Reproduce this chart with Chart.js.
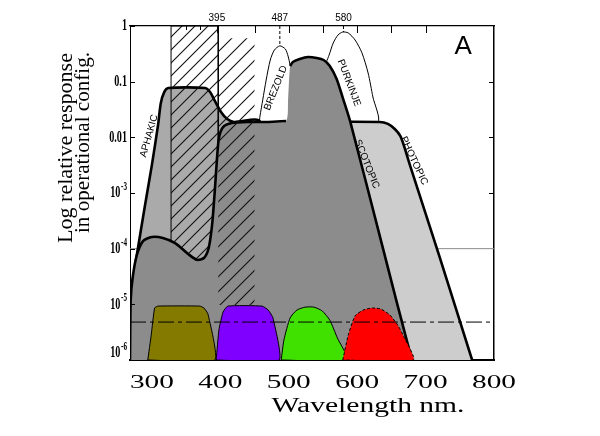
<!DOCTYPE html>
<html>
<head>
<meta charset="utf-8">
<script src="https://cdn.jsdelivr.net/npm/chart.js@4.4.1/dist/chart.umd.min.js"></script>
<style>
  html, body { margin: 0; padding: 0; background: #fff; }
</style>
</head>
<body>
<canvas id="fig" width="600" height="436"></canvas>
<script>
// --- curves: wavelength (nm) and relative response ---
// (sloping edges run on well below 1e-6 so their corners fall outside the frame)
const darkNm   = [268, 269, 272, 278, 287, 300, 316, 334, 353, 366, 376, 383, 388, 392, 395, 398, 404, 417, 443, 470, 496, 499, 502, 506, 516, 528, 541, 551, 560, 570, 579, 590, 635, 680, 706];
const darkResp = [1e-6, 1.2e-5, 3.1e-5, 7.7e-5, 1.37e-4, 1.62e-4, 1.56e-4, 1.26e-4, 8.0e-5, 6.3e-5, 6.8e-5, 1.03e-4, 2.7e-4, 1.13e-3, 3.9e-3, 9.7e-3, 0.0153, 0.0181, 0.0189, 0.0189, 0.0197, 0.047, 0.191, 0.226, 0.255, 0.277, 0.266, 0.245, 0.191, 0.112, 0.051, 0.0189, 1.37e-4, 1e-6, 8.4e-8];
const darkHiddenNm = 499; // part of the edge hidden behind the Brezold lobe

const aphakicNm   = [265, 268, 278, 290, 300, 309, 313, 318, 324, 378, 385, 392, 401, 410, 420, 458, 458];
const aphakicResp = [5.2e-6, 1.2e-5, 7.7e-5, 6.1e-4, 3.2e-3, 0.0167, 0.041, 0.065, 0.077, 0.077, 0.065, 0.045, 0.0285, 0.0213, 0.0189, 0.0189, 5.2e-6];

const photopicNm   = [516, 633, 645, 655, 663, 668, 677, 720, 768, 796, 516];
const photopicResp = [0.0189, 0.0189, 0.0174, 0.0141, 0.0106, 7.3e-3, 3.2e-3, 7.4e-5, 1e-6, 8.4e-8, 8.4e-8];

const brezoldNm   = [457, 458, 462, 467, 473, 479, 487, 495, 499, 502, 504, 504];
const brezoldResp = [0.0189, 0.0242, 0.047, 0.107, 0.245, 0.37, 0.44, 0.386, 0.289, 0.199, 0.15, 0.0189];

const purkinjeNm   = [555, 559, 565, 572, 579, 587, 597, 607, 616, 623, 630, 560];
const purkinjeResp = [0.226, 0.30, 0.495, 0.69, 0.78, 0.75, 0.56, 0.33, 0.143, 0.053, 0.0189, 0.0189];

const hatch1Nm   = [328, 397, 397, 328];
const hatch1Resp = [1, 1, 2.7e-5, 2.7e-5];
const hatch2Nm   = [397, 450, 450, 397];
const hatch2Resp = [0.6, 0.6, 9.7e-6, 9.7e-6];

const oliveNm    = [294, 299, 304, 309, 370, 376, 382, 392];
const oliveResp  = [1e-6, 2.8e-6, 8.6e-6, 9.3e-6, 9.3e-6, 8.6e-6, 6.7e-6, 1e-6];
const purpleNm   = [394, 398, 404, 411, 461, 470, 477, 486];
const purpleResp = [1e-6, 3.5e-6, 7.3e-6, 9.3e-6, 9.3e-6, 7.9e-6, 5.7e-6, 1e-6];
const greenNm    = [489, 493, 502, 512, 524, 537, 549, 560, 571, 585];
const greenResp  = [1e-6, 2.3e-6, 5.7e-6, 7.9e-6, 8.9e-6, 8.9e-6, 7.6e-6, 5.2e-6, 2.5e-6, 1e-6];
const redNm      = [579, 587, 597, 609, 622, 635, 648, 660, 669, 682];
const redResp    = [1e-6, 2.8e-6, 6.2e-6, 7.9e-6, 8.6e-6, 8.2e-6, 6.4e-6, 4.1e-6, 2.5e-6, 1e-6];

const thresholdNm = [268, 800];
const thresholdResp = [4.8e-6, 4.8e-6];
const gridNm = [268, 800];
const gridResp = [1e-4, 1e-4];
const peakMarkers = [[487, 0.44], [580, 0.78]];

// --- axes / tick labels ---
const xTicks = [300, 400, 500, 600, 700, 800];
const yTicks = [1, 0.1, 0.01, 1e-3, 1e-4, 1e-5, 1e-6];
const yTickLabels = ['1', '0.1', '0.01', ['10', '-3'], ['10', '-4'], ['10', '-5'], ['10', '-6']];
const rightTicks = [0.1, 0.01, 1e-3];
const topTicks = [350, 370, 395, 450, 500, 550, 600, 650, 700];
const topLabels = [395, 487, 580];
const curveLabels = [
  { text: 'APHAKIC',  nm: 296, r: 0.0106, angle: -74 },
  { text: 'BREZOLD',  nm: 481, r: 0.077,  angle: -68 },
  { text: 'PURKINJE', nm: 588, r: 0.095,  angle: 69 },
  { text: 'SCOTOPIC', nm: 614, r: 3.3e-3, angle: 68 },
  { text: 'PHOTOPIC', nm: 683, r: 3.8e-3, angle: 65 }
];

const pts = (nm, resp) => nm.map((x, i) => ({ x: x, y: resp[i] }));
const closed = (nm, resp) => { const p = pts(nm, resp); p.push(p[0]); return p; };

const canvas = document.getElementById('fig');
const ctx = canvas.getContext('2d');

function hatch(size) {
  const c = document.createElement('canvas');
  c.width = size; c.height = size;
  const g = c.getContext('2d');
  g.strokeStyle = '#111';
  g.lineWidth = 1.1;
  g.beginPath();
  g.moveTo(0, size); g.lineTo(size, 0);
  g.moveTo(-2, 2); g.lineTo(2, -2);
  g.moveTo(size - 2, size + 2); g.lineTo(size + 2, size - 2);
  g.stroke();
  return ctx.createPattern(c, 'repeat');
}

const base = { pointRadius: 0, xAxisID: 'x', yAxisID: 'y', tension: 0.25 };
function shape(nm, resp, opts) {
  return Object.assign({}, base, { data: closed(nm, resp), fill: 'shape' }, opts);
}
function line(data, opts) {
  return Object.assign({}, base, { data: data, fill: false, tension: 0 }, opts);
}

const darkEdge = pts(darkNm, darkResp).map(p => p.x === darkHiddenNm ? { x: p.x, y: null } : p);

const datasets = [
  line(pts(gridNm, gridResp), { borderColor: '#8a8a8a', borderWidth: 1, order: 15 }),
  shape(purkinjeNm, purkinjeResp, { backgroundColor: '#fff', borderColor: '#000', borderWidth: 1, order: 14 }),
  shape(photopicNm, photopicResp, { backgroundColor: '#cdcdcd', borderColor: '#000', borderWidth: 2.6, order: 13 }),
  shape(brezoldNm, brezoldResp, { backgroundColor: '#fff', borderColor: '#000', borderWidth: 1, order: 12 }),
  shape(aphakicNm, aphakicResp, { backgroundColor: '#aaaaaa', borderColor: '#000', borderWidth: 2.6, order: 11 }),
  shape(hatch1Nm, hatch1Resp, { backgroundColor: hatch(13), borderColor: '#000', borderWidth: 1, tension: 0, order: 10 }),
  shape(darkNm, darkResp, { backgroundColor: '#8c8c8c', borderWidth: 0, order: 9 }),
  line(darkEdge, { borderColor: '#000', borderWidth: 2.6, tension: 0.25, spanGaps: false, order: 8 }),
  shape(hatch2Nm, hatch2Resp, { backgroundColor: hatch(15), borderWidth: 0, tension: 0, order: 7 }),
  shape(oliveNm, oliveResp, { backgroundColor: '#847a00', borderColor: '#000', borderWidth: 1, tension: 0.15, order: 6 }),
  shape(purpleNm, purpleResp, { backgroundColor: '#8000ff', borderColor: '#000', borderWidth: 1, tension: 0.15, order: 5 }),
  shape(greenNm, greenResp, { backgroundColor: '#40e000', borderColor: '#000', borderWidth: 1, tension: 0.2, order: 4 }),
  shape(redNm, redResp, { backgroundColor: '#ff0000', borderColor: '#000', borderWidth: 1, borderDash: [3, 2], tension: 0.2, order: 3 }),
  line(pts(thresholdNm, thresholdResp), { borderColor: '#000', borderWidth: 1, borderDash: [16, 4, 4, 4], order: 2 })
];
peakMarkers.forEach(m => {
  datasets.push(line([{ x: m[0], y: 1 }, { x: m[0], y: m[1] }], { borderColor: '#000', borderWidth: 1, borderDash: [3, 2], order: 1 }));
});

function stretched(c, text, x, y, font, width) {
  c.save();
  c.font = font;
  const w = c.measureText(text).width;
  c.translate(x, y);
  c.scale(width / w, 1);
  c.textAlign = 'center';
  c.textBaseline = 'middle';
  c.fillText(text, 0, 0);
  c.restore();
}

const figureText = {
  id: 'figureText',
  afterDraw(chart) {
    const c = chart.ctx;
    const a = chart.chartArea;
    const X = chart.scales.x, Y = chart.scales.y;
    c.save();
    c.strokeStyle = '#000';
    c.fillStyle = '#000';
    c.lineWidth = 1;

    // inward tick marks
    c.beginPath();
    yTicks.forEach(v => {
      const py = Math.round(Y.getPixelForValue(v)) + 0.5;
      c.moveTo(a.left, py); c.lineTo(a.left + 5, py);
    });
    rightTicks.forEach(v => {
      const py = Math.round(Y.getPixelForValue(v)) + 0.5;
      c.moveTo(a.right, py); c.lineTo(a.right - 5, py);
    });
    topTicks.forEach(v => {
      const px = Math.round(X.getPixelForValue(v)) + 0.5;
      c.moveTo(px, a.top); c.lineTo(px, a.top + (v < 390 ? 4 : 7));
    });
    c.stroke();

    // y tick labels (condensed bold serif)
    yTicks.forEach((v, i) => {
      const lab = yTickLabels[i];
      const py = Math.min(Y.getPixelForValue(v), a.bottom - 7);
      c.save();
      c.translate(a.left - 3, py);
      c.scale(0.6, 1);
      c.textAlign = 'right';
      c.textBaseline = 'middle';
      if (typeof lab === 'string') {
        c.font = 'bold 17px "Liberation Serif"';
        c.fillText(lab, 0, 0);
      } else {
        c.font = 'bold 12px "Liberation Serif"';
        const we = c.measureText(lab[1]).width;
        c.fillText(lab[1], 0, -6);
        c.font = 'bold 17px "Liberation Serif"';
        c.fillText(lab[0], -we - 1, 0);
      }
      c.restore();
    });

    // x tick labels (wide serif)
    xTicks.forEach(v => {
      stretched(c, String(v), X.getPixelForValue(v), a.bottom + 23, '18px "Liberation Serif"', 44);
    });
    stretched(c, 'Wavelength nm.', 368, 407, '20px "Liberation Serif"', 193);

    // y axis title, two rotated lines
    [['Log relative response', 72, 53, 190], ['in operational config.', 89, 52, 181]].forEach(t => {
      c.save();
      c.translate(t[1], t[2]);
      c.rotate(-Math.PI / 2);
      c.font = '21px "Liberation Serif"';
      const w = c.measureText(t[0]).width;
      c.scale(t[3] / w, 1);
      c.textAlign = 'right';
      c.textBaseline = 'alphabetic';
      c.fillText(t[0], 0, 0);
      c.restore();
    });

    // wavelength marks above the frame
    c.font = '10px "Liberation Sans"';
    c.textAlign = 'center';
    c.textBaseline = 'middle';
    topLabels.forEach(v => c.fillText(String(v), X.getPixelForValue(v), a.top - 8));

    // curve names
    curveLabels.forEach(l => {
      c.save();
      c.translate(X.getPixelForValue(l.nm), Y.getPixelForValue(l.r));
      c.rotate(l.angle * Math.PI / 180);
      c.font = '10px "Liberation Sans"';
      c.fillText(l.text, 0, 0);
      c.restore();
    });

    // panel letter
    c.font = '26px "Liberation Sans"';
    c.fillText('A', X.getPixelForValue(755), Y.getPixelForValue(0.42));
    c.restore();
  }
};

const flatAxis = (pos, type, width, color) => ({
  type: type,
  position: pos,
  min: type === 'linear' ? 268 : 1e-6,
  max: type === 'linear' ? 800 : 1,
  z: 1,
  ticks: { display: false },
  grid: { display: false },
  border: { display: true, color: color || '#000', width: width },
  afterFit(scale) {
    if (pos === 'top' || pos === 'bottom') scale.height = 0; else scale.width = 0;
  }
});

new Chart(ctx, {
  type: 'line',
  data: { datasets: datasets },
  options: {
    responsive: false,
    animation: false,
    devicePixelRatio: 1,
    elements: { line: { capBezierPoints: false } },
    layout: { padding: { left: 130, top: 26, right: 106, bottom: 76 } },
    plugins: { legend: { display: false }, tooltip: { enabled: false } },
    scales: {
      x: flatAxis('bottom', 'linear', 2),
      x2: flatAxis('top', 'linear', 1.2),
      y: flatAxis('left', 'logarithmic', 1),
      y2: flatAxis('right', 'logarithmic', 1.5)
    }
  },
  plugins: [figureText]
});
</script>
</body>
</html>
